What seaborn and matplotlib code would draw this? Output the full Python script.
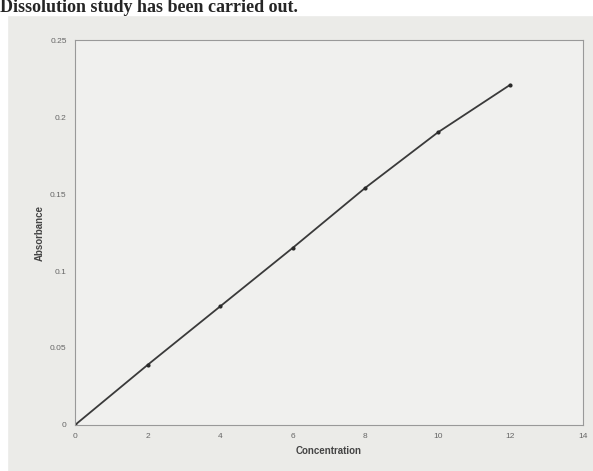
import numpy as np
import pandas as pd
import matplotlib.pyplot as plt
import seaborn as sns

# data
concentration = [0, 2, 4, 6, 8, 10, 12]
absorbance = [0.0, 0.039, 0.077, 0.115, 0.154, 0.190, 0.221]
x_ticks = [0, 2, 4, 6, 8, 10, 12, 14]
y_ticks = [0, 0.05, 0.1, 0.15, 0.2, 0.25]
y_tick_labels = ['0', '0.05', '0.1', '0.15', '0.2', '0.25']

df = pd.DataFrame({'Concentration': concentration, 'Absorbance': absorbance})

sns.set_style('white')
plt.rcParams['font.family'] = ['Liberation Sans', 'DejaVu Sans']

fig = plt.figure(figsize=(5.93, 4.71), dpi=100)
fig.patch.set_facecolor('#ebebe8')

# white page around the photo, heading at the top
fig.patches.append(plt.Rectangle((0, 0.968), 1, 0.032, transform=fig.transFigure,
                                 color='white', zorder=0))
fig.patches.append(plt.Rectangle((0, 0), 0.012, 1, transform=fig.transFigure,
                                 color='white', zorder=0))
fig.text(0.0, 0.975, 'Dissolution study has been carried out.', fontsize=13,
         fontweight='bold', family=['Liberation Serif', 'DejaVu Serif'],
         va='baseline', ha='left')

ax = fig.add_axes([0.1265, 0.0977, 0.8565, 0.8173])
ax.set_facecolor('#f0f0ee')

sns.lineplot(data=df, x='Concentration', y='Absorbance', ax=ax,
             color='#3a3a3a', lw=1.3, marker='o', markersize=3,
             markeredgewidth=0, markerfacecolor='#2a2a2a')

ax.set_xlim(0, 14)
ax.set_ylim(0, 0.25)
ax.set_xticks(x_ticks)
ax.set_yticks(y_ticks)
ax.set_yticklabels(y_tick_labels)
ax.tick_params(labelsize=6, colors='#666666', length=0, pad=6)
ax.set_xlabel('Concentration', fontsize=7, fontweight='bold', color='#444444', labelpad=4)
ax.set_ylabel('Absorbance', fontsize=7, fontweight='bold', color='#444444', labelpad=4)

for s in ax.spines.values():
    s.set_color('#999999')
    s.set_linewidth(0.8)

fig.savefig('out.png', dpi=100, facecolor=fig.get_facecolor())
